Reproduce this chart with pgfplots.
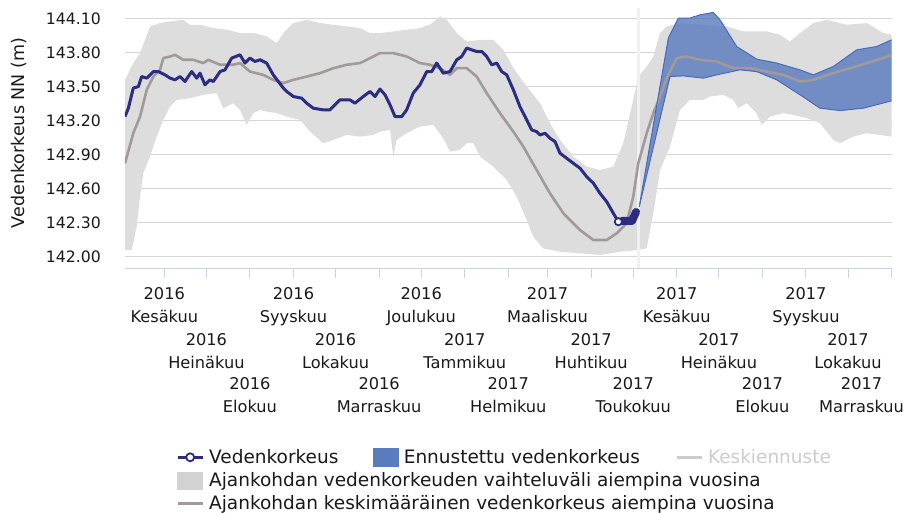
\documentclass[border=0pt]{standalone}
\usepackage{fontspec}
\setmainfont{DejaVu Sans}
\usepackage{pgfplots}
\pgfplotsset{compat=1.18}
\usepgfplotslibrary{fillbetween}
\definecolor{gridc}{RGB}{214,214,214}
\definecolor{bandc}{RGB}{221,221,221}
\definecolor{meanc}{RGB}{160,154,154}
\definecolor{obsc}{RGB}{44,44,130}
\definecolor{fcfill}{RGB}{91,123,191}
\definecolor{fcline}{RGB}{70,108,190}
\definecolor{axc}{RGB}{200,212,228}
\definecolor{nowc}{RGB}{240,240,240}
\definecolor{hidc}{RGB}{204,204,204}
\definecolor{txtc}{RGB}{25,25,25}
\newcommand{\xl}[3]{\begin{tabular}{@{}c@{}}\rule{0pt}{#1}#2\\#3\end{tabular}}
\begin{document}
\begin{tikzpicture}
\begin{axis}[
  scale only axis, width=766.7pt, height=260.3pt,
  xmin=-28, xmax=518.1, ymin=141.898, ymax=144.195,
  axis x line*=bottom, axis y line*=left,
  x axis line style={axc, line width=1pt, -},
  y axis line style={draw=none},
  major tick length=10pt, tick align=outside,
  xtick style={axc, line width=1pt},
  ytick style={draw=none},
  ymajorgrids, grid style={gridc, line width=1pt},
  ytick={142,142.3,142.6,142.9,143.2,143.5,143.8,144.1},
  yticklabel style={font=\fontsize{15.7}{18}\selectfont, text=txtc, inner sep=0pt, xshift=-14pt,
    /pgf/number format/fixed, /pgf/number format/fixed zerofill, /pgf/number format/precision=2,
    /pgf/number format/assume math mode=true},
  xtick={0,30,61,92,122,153,183,214,245,273,304,334,365,395,426,457,487,518},
  xticklabels={
    {\xl{21pt}{2016}{Kesäkuu}},{\xl{67pt}{2016}{Heinäkuu}},{\xl{110.5pt}{2016}{Elokuu}},
    {\xl{21pt}{2016}{Syyskuu}},{\xl{67pt}{2016}{Lokakuu}},{\xl{110.5pt}{2016}{Marraskuu}},
    {\xl{21pt}{2016}{Joulukuu}},{\xl{67pt}{2017}{Tammikuu}},{\xl{110.5pt}{2017}{Helmikuu}},
    {\xl{21pt}{2017}{Maaliskuu}},{\xl{67pt}{2017}{Huhtikuu}},{\xl{110.5pt}{2017}{Toukokuu}},
    {\xl{21pt}{2017}{Kesäkuu}},{\xl{67pt}{2017}{Heinäkuu}},{\xl{110.5pt}{2017}{Elokuu}},
    {\xl{21pt}{2017}{Syyskuu}},{\xl{67pt}{2017}{Lokakuu}},{\hspace*{-60pt}\xl{110.5pt}{2017}{Marraskuu}}},
  xticklabel style={font=\fontsize{16.2}{23.4}\selectfont, text=txtc, inner sep=0pt, anchor=north},
  ylabel={Vedenkorkeus NN (m)},
  ylabel style={font=\fontsize{17.5}{20}\selectfont, text=txtc, at={(axis description cs:-0.1376,0.52)}, anchor=center},
  legend columns=3,
  legend style={at={(axis description cs:0,0)}, anchor=north west, xshift=51pt, yshift=-179pt,
    draw=none, fill=none, inner sep=0pt, font=\fontsize{18.5}{22}\selectfont, text=txtc,
    column sep=3pt, row sep=3.5pt, /tikz/every even column/.append style={column sep=33pt}},
  legend cell align=left,
]
% range of earlier years
\addplot[name path=bandU, draw=none, forget plot] coordinates {
(-28.0,143.561)(-22.1,143.709)(-17.3,143.797)(-13.7,143.914)(-10.2,144.032)(-3.1,144.062)(4.1,144.076)(13.5,144.091)(18.3,144.047)(25.4,144.047)(34.9,144.018)(44.4,144.003)(53.9,143.974)(63.4,143.974)(72.9,143.944)(80.1,143.885)(84.8,143.974)(91.9,144.062)(101.4,144.091)(110.9,144.062)(120.4,144.047)(129.9,144.032)(139.4,144.018)(146.5,143.974)(153.6,143.974)(163.1,143.988)(172.6,144.003)(182.1,144.018)(189.2,144.047)(196.4,144.120)(201.1,144.091)(208.3,143.974)(215.4,143.899)(224.9,143.914)(234.3,143.914)(241.5,143.826)(248.6,143.664)(258.1,143.502)(267.6,143.355)(274.7,143.179)(281.8,143.031)(291.3,142.884)(300.8,142.795)(310.3,142.766)(319.8,142.795)(326.9,143.002)(334.0,143.384)(337.6,143.590)(343.6,143.679)(348.3,143.767)(353.1,143.974)(357.8,144.032)(367.3,144.062)(381.6,144.047)(395.8,144.032)(400.6,144.032)(412.4,143.988)(429.1,143.988)(438.5,143.959)(445.6,143.899)(452.8,143.974)(462.3,144.062)(471.8,144.091)(486.0,144.047)(500.3,144.062)(512.1,143.974)(518.1,143.959)};
\addplot[name path=bandL, draw=none, forget plot] coordinates {
(-28.0,142.059)(-23.2,142.059)(-19.7,142.265)(-17.3,142.530)(-15.0,142.737)(-10.2,142.884)(-5.4,143.060)(-0.7,143.208)(4.1,143.325)(8.8,143.384)(18.3,143.399)(27.8,143.429)(37.3,143.444)(42.0,143.311)(49.1,143.355)(53.9,143.296)(58.7,143.164)(63.4,143.267)(68.2,143.296)(72.9,143.281)(80.1,143.267)(87.2,143.237)(96.7,143.208)(103.8,143.104)(113.2,143.002)(120.4,143.031)(129.9,143.075)(139.4,143.060)(148.9,143.075)(153.6,143.104)(160.8,143.119)(163.1,142.884)(165.5,143.031)(172.6,143.090)(182.1,143.149)(191.6,143.164)(198.7,143.046)(203.5,142.928)(210.6,142.943)(215.4,143.002)(220.1,143.002)(224.9,142.884)(234.3,142.795)(243.9,142.678)(251.0,142.530)(258.1,142.324)(262.8,142.177)(269.9,142.074)(281.8,142.044)(296.1,142.030)(310.3,142.015)(324.6,142.044)(336.5,142.059)(343.6,142.074)(348.3,142.384)(353.1,142.766)(360.2,142.972)(367.3,143.296)(374.4,143.384)(383.9,143.384)(388.7,143.414)(398.2,143.429)(405.3,143.384)(408.8,143.311)(414.8,143.355)(421.9,143.267)(425.5,143.164)(431.4,143.237)(440.9,143.267)(448.0,143.252)(457.5,143.223)(467.0,143.179)(476.5,143.031)(481.3,143.002)(490.7,143.060)(500.3,143.090)(509.8,143.075)(518.1,143.060)};
\addplot[bandc, draw=none, forget plot] fill between[of=bandU and bandL];
% "now" line
\addplot[nowc, line width=3pt, forget plot] coordinates {(337.8,141.898)(337.8,144.195)};
% mean of earlier years
\addplot[meanc, line width=2.6pt, line join=round, forget plot] coordinates {
(-28.0,142.825)(-22.1,143.090)(-17.3,143.237)(-12.5,143.473)(-7.8,143.590)(-3.1,143.649)(-0.7,143.753)(4.1,143.767)(7.6,143.782)(13.5,143.738)(20.7,143.738)(27.8,143.709)(31.3,143.738)(39.7,143.694)(49.1,143.694)(53.9,143.709)(61.0,143.634)(70.5,143.605)(77.6,143.561)(84.8,143.532)(91.9,143.561)(101.4,143.590)(110.9,143.620)(120.4,143.664)(129.9,143.694)(139.4,143.709)(148.9,143.767)(153.6,143.797)(163.1,143.797)(172.6,143.767)(182.1,143.709)(189.2,143.694)(196.4,143.664)(203.5,143.605)(208.3,143.664)(215.4,143.664)(222.5,143.590)(229.6,143.444)(239.1,143.267)(248.6,143.104)(255.7,142.972)(265.2,142.766)(274.7,142.560)(284.2,142.384)(296.1,142.236)(305.6,142.148)(315.1,142.148)(322.2,142.207)(329.3,142.295)(334.0,142.530)(337.6,142.825)(343.6,143.090)(348.3,143.267)(353.1,143.414)(357.8,143.576)(365.0,143.753)(372.1,143.767)(381.6,143.738)(393.4,143.723)(405.3,143.664)(417.2,143.664)(429.1,143.634)(440.9,143.605)(452.8,143.546)(462.3,143.561)(476.5,143.620)(488.4,143.664)(500.3,143.709)(512.1,143.753)(518.1,143.782)};
% forecast range
\addplot[name path=fcU, fcline, line width=1pt, forget plot] coordinates {
(338.3,142.442)(359.0,143.930)(366.1,144.106)(374.4,144.106)(381.6,144.135)(391.0,144.156)(395.8,144.091)(407.7,143.855)(421.9,143.744)(436.2,143.709)(452.8,143.649)(462.3,143.605)(476.5,143.679)(493.2,143.826)(507.4,143.855)(518.1,143.915)};
\addplot[name path=fcL, fcline, line width=1pt, forget plot] coordinates {
(338.3,142.442)(360.2,143.590)(369.7,143.596)(383.9,143.576)(393.4,143.605)(410.0,143.649)(421.9,143.634)(436.2,143.561)(452.8,143.429)(467.0,143.311)(481.3,143.290)(497.9,143.311)(518.1,143.376)};
\addplot[fcfill, fill opacity=0.82, draw=none, forget plot] fill between[of=fcU and fcL];
% observed water level
\addplot[obsc, line width=3pt, line join=round, forget plot] coordinates {
(-28.0,143.237)(-25.6,143.311)(-22.1,143.488)(-18.5,143.502)(-16.1,143.590)(-12.5,143.576)(-7.8,143.634)(-4.3,143.634)(-1.9,143.620)(0.5,143.605)(4.1,143.576)(7.6,143.561)(11.2,143.590)(14.7,143.546)(19.5,143.634)(23.1,143.576)(25.4,143.620)(29.0,143.517)(32.5,143.561)(34.9,143.546)(39.7,143.634)(43.2,143.649)(48.0,143.753)(53.9,143.782)(57.5,143.709)(61.0,143.753)(64.6,143.723)(68.2,143.738)(72.9,143.709)(77.6,143.605)(84.8,143.488)(87.2,143.458)(91.9,143.414)(97.9,143.399)(101.4,143.355)(106.1,143.311)(113.2,143.296)(118.0,143.296)(125.1,143.384)(132.3,143.384)(135.8,143.355)(141.7,143.414)(146.5,143.458)(150.1,143.414)(153.6,143.480)(157.2,143.429)(160.8,143.340)(164.3,143.237)(169.1,143.237)(172.6,143.296)(177.3,143.444)(182.1,143.517)(186.9,143.634)(190.5,143.634)(194.0,143.709)(198.7,143.620)(203.5,143.634)(208.3,143.738)(211.8,143.767)(215.4,143.841)(218.9,143.826)(222.5,143.811)(226.1,143.811)(229.6,143.767)(233.2,143.694)(236.8,143.709)(240.3,143.634)(243.9,143.605)(248.6,143.473)(253.3,143.325)(258.1,143.208)(261.7,143.119)(265.2,143.104)(267.6,143.075)(271.2,143.090)(274.7,143.046)(278.3,143.016)(281.8,142.914)(286.6,142.869)(291.3,142.825)(296.1,142.781)(300.8,142.707)(305.6,142.649)(310.3,142.560)(315.1,142.486)(319.8,142.384)(323.4,142.309)};
\addplot[obsc, line width=8pt, line join=round, line cap=round, forget plot] coordinates {
(326.0,142.316)(333.1,142.316)(336.0,142.395)};
\addplot[obsc, only marks, mark=*, mark size=3.6pt, mark options={fill=white, draw=obsc, line width=1.8pt}, forget plot] coordinates {(323.4,142.309)};
% legend
\addlegendimage{legend image code/.code={
  \draw[obsc, line width=2.5pt] (0pt,0pt) -- (25pt,0pt);
  \draw[obsc, fill=white, line width=1.8pt] (12.5pt,0pt) circle (4pt);}}
\addlegendentry{Vedenkorkeus}
\addlegendimage{legend image code/.code={\fill[fcfill] (0pt,-9pt) rectangle (25pt,9pt);}}
\addlegendentry{Ennustettu vedenkorkeus}
\addlegendimage{legend image code/.code={\draw[hidc, line width=3pt] (0pt,0pt) -- (25pt,0pt);}}
\addlegendentry{\textcolor{hidc}{Keskiennuste}}
\addlegendimage{legend image code/.code={\fill[bandc!95!black] (0pt,-8.5pt) rectangle (25pt,8.5pt);}}
\addlegendentry{\makebox[0pt][l]{Ajankohdan vedenkorkeuden vaihteluväli aiempina vuosina}}
\addlegendimage{empty legend}\addlegendentry{}
\addlegendimage{empty legend}\addlegendentry{}
\addlegendimage{legend image code/.code={\draw[meanc, line width=3pt] (0pt,0pt) -- (25pt,0pt);}}
\addlegendentry{\makebox[0pt][l]{Ajankohdan keskimääräinen vedenkorkeus aiempina vuosina}}
\node[rotate=90, anchor=east, inner sep=0pt, font=\fontsize{13.7}{16}\selectfont\bfseries, text=black!85]
  at (axis description cs:-0.137,-0.141) {SYKEN VESISTÖENNUSTEET};
\end{axis}
\pgfresetboundingbox
\path[use as bounding box] (-125pt,-243.7pt) rectangle (783pt,268.3pt);
\end{tikzpicture}
\end{document}
